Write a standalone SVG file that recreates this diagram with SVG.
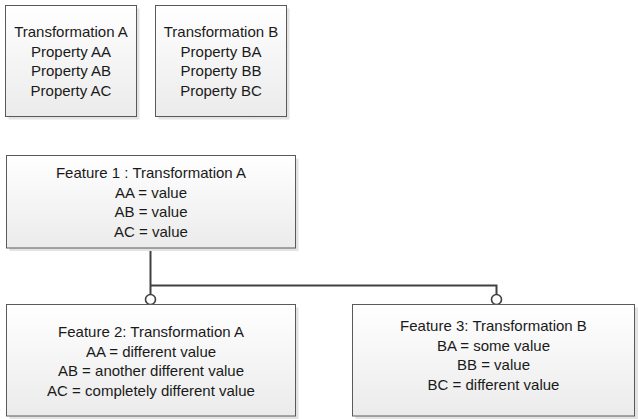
<svg xmlns="http://www.w3.org/2000/svg" width="638" height="419" viewBox="0 0 638 419">
  <defs>
    <linearGradient id="boxFill" x1="0" y1="0" x2="0" y2="1">
      <stop offset="0" stop-color="#ffffff"/>
      <stop offset="1" stop-color="#ebebeb"/>
    </linearGradient>
  </defs>
  <style>
    .shadow { fill: #e3e3e3; }
    .box { fill: url(#boxFill); stroke: #5a5a5a; stroke-width: 1; }
    .label { font-family: "Liberation Sans", Arial, sans-serif; font-size: 15px; fill: #1a1a1a; text-anchor: middle; }
    .wire { fill: none; stroke: #404040; stroke-width: 2; }
    .socket { fill: #ffffff; stroke: #404040; stroke-width: 1.6; }
  </style>

  <!-- Connectors -->
  <g id="connectors">
    <path class="wire" d="M150.5 248 V295"/>
    <path class="wire" d="M150.5 285.5 H496.5 V294.5"/>
    <circle class="socket" cx="150.5" cy="299.5" r="5"/>
    <circle class="socket" cx="496.5" cy="299.5" r="5"/>
  </g>

  <g id="transformationA">
    <rect class="shadow" x="8.5" y="8.5" width="131" height="111"/>
    <rect class="box" x="5.5" y="5.5" width="131" height="111"/>
    <text class="label" x="71" y="37">Transformation A</text>
    <text class="label" x="71" y="56.5">Property AA</text>
    <text class="label" x="71" y="76">Property AB</text>
    <text class="label" x="71" y="95.5">Property AC</text>
  </g>

  <g id="transformationB">
    <rect class="shadow" x="158.5" y="8.5" width="131" height="111"/>
    <rect class="box" x="155.5" y="5.5" width="131" height="111"/>
    <text class="label" x="221" y="37">Transformation B</text>
    <text class="label" x="221" y="56.5">Property BA</text>
    <text class="label" x="221" y="76">Property BB</text>
    <text class="label" x="221" y="95.5">Property BC</text>
  </g>

  <g id="feature1">
    <rect class="shadow" x="9.5" y="158.5" width="289" height="92.5"/>
    <rect class="box" x="6.5" y="155.5" width="289" height="92.5"/>
    <text class="label" x="151" y="178">Feature 1 : Transformation A</text>
    <text class="label" x="151" y="197.5">AA = value</text>
    <text class="label" x="151" y="217">AB = value</text>
    <text class="label" x="151" y="236.5">AC = value</text>
  </g>

  <g id="feature2">
    <rect class="shadow" x="9.5" y="307.5" width="289" height="111.5"/>
    <rect class="box" x="6.5" y="304.5" width="289" height="111.5"/>
    <text class="label" x="151" y="337">Feature 2: Transformation A</text>
    <text class="label" x="151" y="356.5">AA = different value</text>
    <text class="label" x="151" y="376">AB = another different value</text>
    <text class="label" x="151" y="395.5">AC = completely different value</text>
  </g>

  <g id="feature3">
    <rect class="shadow" x="355.5" y="307.5" width="283" height="111.5"/>
    <rect class="box" x="352.5" y="304.5" width="282" height="111.5"/>
    <text class="label" x="493.5" y="331">Feature 3: Transformation B</text>
    <text class="label" x="493.5" y="350.5">BA = some value</text>
    <text class="label" x="493.5" y="370">BB = value</text>
    <text class="label" x="493.5" y="389.5">BC = different value</text>
  </g>
</svg>
